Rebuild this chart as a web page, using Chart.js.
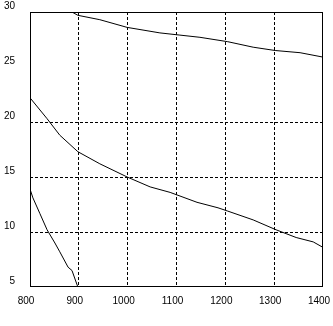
<!DOCTYPE html>
<html>
<head>
<meta charset="utf-8">
<script src="https://cdn.jsdelivr.net/npm/chart.js@4/dist/chart.umd.min.js"></script>
<style>
    html, body { margin: 0; padding: 0; background: #fff; }
    #wrap { width: 333px; height: 326px; }
</style>
</head>
<body>
<div id="wrap"><canvas id="chart"></canvas></div>
<script>
// series
const lowX = [800, 806, 820, 835, 851, 861, 878, 886, 898];
const lowY = [13.9, 13.1, 11.7, 10.2, 9.0, 8.2, 6.8, 6.5, 5.0];

const midX = [800, 835, 861, 898, 943, 999, 1046, 1087, 1142, 1185, 1205, 1257, 1304, 1345, 1380, 1400];
const midY = [22.2, 20.3, 18.8, 17.3, 16.2, 15.0, 14.1, 13.6, 12.7, 12.2, 11.9, 11.1, 10.2, 9.5, 9.1, 8.6];

const topX = [886, 898, 943, 999, 1066, 1107, 1148, 1205, 1257, 1302, 1353, 1400];
const topY = [30.0, 29.7, 29.3, 28.6, 28.1, 27.9, 27.7, 27.3, 26.8, 26.5, 26.3, 25.9];

const xTicks = [800, 900, 1000, 1100, 1200, 1300, 1400];
const yTicks = [5, 10, 15, 20, 25, 30];
const yGrid = [10, 15, 20];

function toPoints(xs, ys) {
    return xs.map((x, i) => ({ x: x, y: ys[i] }));
}

function lineSet(xs, ys) {
    return {
        data: toPoints(xs, ys),
        borderColor: '#000',
        borderWidth: 1,
        pointRadius: 0,
        tension: 0,
        fill: false
    };
}

// frame round the plot area
const frame = {
    id: 'frame',
    afterDatasetsDraw(chart) {
        const a = chart.chartArea;
        const c = chart.ctx;
        c.save();
        c.strokeStyle = '#000';
        c.lineWidth = 1;
        c.strokeRect(Math.round(a.left) + 0.5, Math.round(a.top) + 0.5,
            Math.round(a.right - a.left) - 1, Math.round(a.bottom - a.top) - 1);
        c.restore();
    }
};

const tickFont = { family: 'Liberation Sans', size: 10 };

new Chart(document.getElementById('chart'), {
    type: 'line',
    data: {
        datasets: [lineSet(lowX, lowY), lineSet(midX, midY), lineSet(topX, topY)]
    },
    options: {
        responsive: true,
        maintainAspectRatio: false,
        animation: false,
        layout: { padding: { top: 12, right: 10, left: 0, bottom: 0 } },
        plugins: { legend: { display: false }, tooltip: { enabled: false } },
        scales: {
            x: {
                type: 'linear',
                min: 800,
                max: 1400,
                afterBuildTicks: s => { s.ticks = xTicks.map(v => ({ value: v })); },
                afterFit: s => { s.height = 39; s.paddingLeft = 0; s.paddingRight = 0; },
                border: { display: false, dash: [3, 2] },
                grid: {
                    drawTicks: false,
                    lineWidth: 1,
                    color: ctx => (ctx.tick && ctx.tick.value > 800 && ctx.tick.value < 1400) ? '#000' : 'rgba(0,0,0,0)'
                },
                ticks: {
                    color: '#000',
                    font: tickFont,
                    padding: 8,
                    labelOffset: -4,
                    maxRotation: 0,
                    autoSkip: false,
                    callback: v => String(v)
                }
            },
            y: {
                type: 'linear',
                min: 5,
                max: 30,
                afterBuildTicks: s => { s.ticks = yTicks.map(v => ({ value: v })); },
                afterFit: s => { s.width = 30; s.paddingTop = 0; s.paddingBottom = 0; },
                border: { display: false, dash: [3, 2] },
                grid: {
                    drawTicks: false,
                    lineWidth: 1,
                    color: ctx => (ctx.tick && yGrid.includes(ctx.tick.value)) ? '#000' : 'rgba(0,0,0,0)'
                },
                ticks: {
                    color: '#000',
                    font: tickFont,
                    padding: 15,
                    labelOffset: -6,
                    autoSkip: false,
                    callback: v => String(v)
                }
            }
        }
    },
    plugins: [frame]
});
</script>
</body>
</html>
